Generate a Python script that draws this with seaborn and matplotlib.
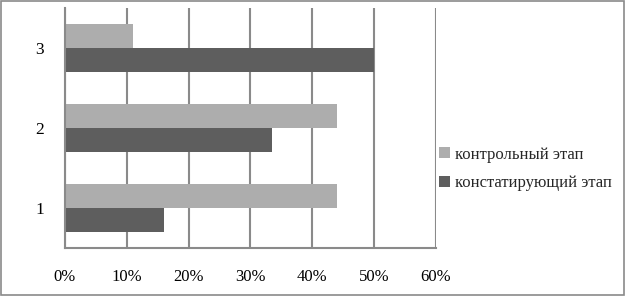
import matplotlib
matplotlib.use("Agg")
import matplotlib.pyplot as plt
import seaborn as sns
import pandas as pd
from matplotlib.patches import Rectangle
from matplotlib.ticker import PercentFormatter

categories = ["3", "2", "1"]
series_names = ["контрольный этап", "констатирующий этап"]
control = [0.11, 0.44, 0.44]
ascertaining = [0.50, 0.335, 0.16]
x_ticks = [0, 0.1, 0.2, 0.3, 0.4, 0.5, 0.6]

df = pd.DataFrame({
    "cat": categories * 2,
    "series": [series_names[0]] * 3 + [series_names[1]] * 3,
    "value": control + ascertaining,
})

sns.set_theme(style="white")
plt.rcParams["font.family"] = ["Liberation Serif", "DejaVu Serif"]

fig = plt.figure(figsize=(6.26, 2.96), dpi=100)
ax = fig.add_axes([65 / 626, 1 - 248 / 296, (436 - 65) / 626, 240 / 296])

sns.barplot(data=df, y="cat", x="value", hue="series", order=categories,
            hue_order=series_names, palette=["#adadad", "#5e5e5e"],
            orient="h", width=0.59, ax=ax, saturation=1, linewidth=0)

ax.set_xlim(0, 0.6)
ax.set_xticks(x_ticks)
ax.xaxis.set_major_formatter(PercentFormatter(1.0, decimals=0))
ax.set_xlabel("")
ax.set_ylabel("")
ax.grid(axis="x", color="#8a8a8a", linewidth=1.5)
ax.set_axisbelow(True)
for s in ["top", "right"]:
    ax.spines[s].set_visible(False)
for s in ["left", "bottom"]:
    ax.spines[s].set_color("#8a8a8a")
    ax.spines[s].set_linewidth(1.5)
ax.tick_params(axis="x", length=0, pad=15, labelsize=12, colors="black")
ax.tick_params(axis="y", length=0, pad=15, labelsize=12.5, colors="black")

handles, labels = ax.get_legend_handles_labels()
ax.legend(handles, labels, loc="center left", bbox_to_anchor=(436 / 626, 1 - 169 / 296),
          bbox_transform=fig.transFigure, frameon=False, fontsize=12,
          handlelength=0.65, handleheight=0.65, handletextpad=0.3,
          labelspacing=0.75, borderaxespad=0, borderpad=0.2)

fig.patches.append(Rectangle((0.002, 0.003), 0.995, 0.993, transform=fig.transFigure,
                             fill=False, edgecolor="#8a8a8a", linewidth=1.2))

fig.savefig("out.png", dpi=100)
